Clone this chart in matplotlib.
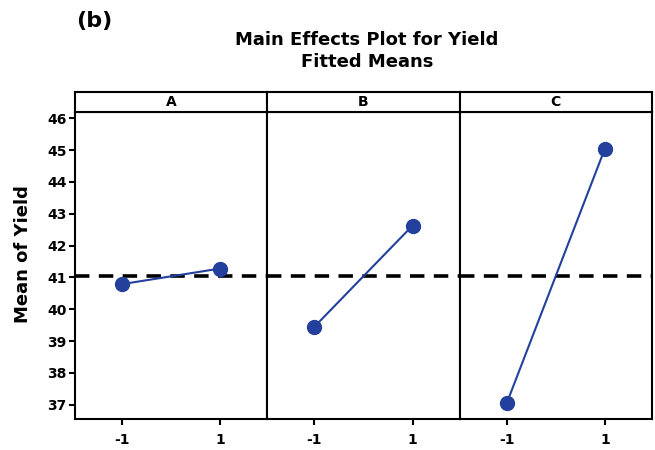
import numpy as np
import matplotlib.pyplot as plt

plt.rcParams['font.family'] = ['DejaVu Sans']
plt.rcParams['font.weight'] = 'bold'

factors = ['A', 'B', 'C']
levels = [-1, 1]
means_A = [40.79, 41.28]
means_B = [39.45, 42.63]
means_C = [37.05, 45.05]
grand_mean = 41.05
yticks = [37, 38, 39, 40, 41, 42, 43, 44, 45, 46]

all_means = [means_A, means_B, means_C]
blue = '#22409c'

fig = plt.figure(figsize=(6.55, 4.5), dpi=100)
left, right = 75 / 655, 652 / 655
bottom, top = 1 - 419 / 450, 1 - 112 / 450
strip_h = 20 / 450
w = (right - left) / 3

for i, (name, m) in enumerate(zip(factors, all_means)):
    ax = fig.add_axes([left + i * w, bottom, w, top - bottom])
    ax.plot(levels, m, color=blue, lw=1.5, marker='o', ms=10, zorder=3)
    ax.axhline(grand_mean, color='k', lw=2.6, ls=(0, (4, 2.6)), zorder=2)
    ax.set_xlim(-1.96, 1.96)
    ax.set_ylim(36.55, 46.2)
    ax.set_xticks(levels)
    ax.set_xticklabels([str(v) for v in levels], fontsize=10, fontweight='bold')
    ax.tick_params(axis='x', length=4, width=1.5, pad=6)
    if i == 0:
        ax.set_yticks(yticks)
        ax.set_yticklabels([str(v) for v in yticks], fontsize=10, fontweight='bold')
        ax.tick_params(axis='y', length=4, width=1.5, pad=2)
    else:
        ax.set_yticks([])
    for s in ax.spines.values():
        s.set_linewidth(1.5)

    hx = fig.add_axes([left + i * w, top, w, strip_h])
    hx.set_xticks([])
    hx.set_yticks([])
    for s in hx.spines.values():
        s.set_linewidth(1.5)
    hx.text(0.5, 0.5, name, ha='center', va='center', fontsize=10,
            fontweight='bold', transform=hx.transAxes)

fig.text(23 / 655, 1 - 254 / 450, 'Mean of Yield', rotation=90, ha='center',
         va='center', fontsize=13, fontweight='bold')
fig.text(367 / 655, 1 - 40 / 450, 'Main Effects Plot for Yield', ha='center',
         va='center', fontsize=13, fontweight='bold')
fig.text(367 / 655, 1 - 62 / 450, 'Fitted Means', ha='center',
         va='center', fontsize=13, fontweight='bold')
fig.text(76 / 655, 1 - 21 / 450, '(b)', ha='left', va='center',
         fontsize=16, fontweight='bold')

fig.savefig('out.png', dpi=100)
